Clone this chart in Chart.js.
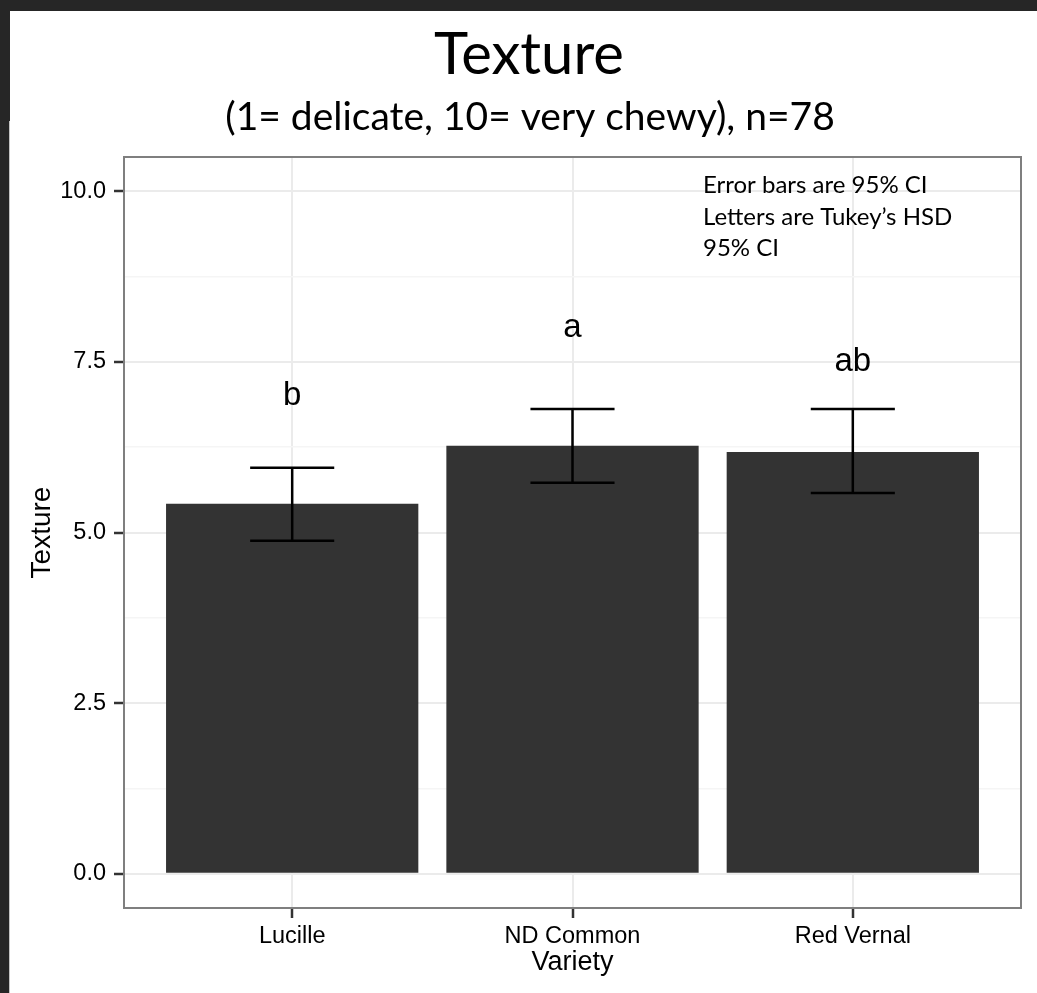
<!DOCTYPE html>
<html><head><meta charset="utf-8">
<script src="https://cdn.jsdelivr.net/npm/chart.js@4"></script>
<style>
html,body{margin:0;padding:0;background:#262626;overflow:hidden}
#wrap{position:absolute;left:0;top:0;width:1037px;height:993px}
</style></head>
<body><div id="wrap"><canvas id="c" width="1037" height="993"></canvas></div>
<script>
// ---- data ----
const categories = ['Lucille', 'ND Common', 'Red Vernal'];
const means      = [5.42, 6.27, 6.18];
const ciLow      = [4.88, 5.73, 5.58];
const ciHigh     = [5.95, 6.81, 6.81];
const letters    = ['b', 'a', 'ab'];
const letterY    = [7.0, 8.0, 7.5];
const yMajorTicks = [0, 2.5, 5, 7.5, 10];
const yMinorTicks = [1.25, 3.75, 6.25, 8.75];
const titleText = 'Texture';
const subtitleText = '(1= delicate, 10= very chewy), n=78';
const noteLines = ['Error bars are 95% CI', 'Letters are Tukey\u2019s HSD', '95% CI'];

// ---- styling constants ----
const ERR_CAP = 0.3;        // cap width in x units
const AX_FONT = 'Liberation Sans, Arial, sans-serif';
const TITLE_FONT = 'Lato, "Open Sans", sans-serif';

const yGrid = yMajorTicks.concat(yMinorTicks).sort((a,b)=>a-b);
const isMajor = v => yMajorTicks.some(m => Math.abs(m - v) < 1e-9);

const pageBg = {
  id: 'pageBg',
  beforeDraw(chart) {
    const {ctx} = chart;
    ctx.save();
    ctx.fillStyle = '#262626';
    ctx.fillRect(0, 0, chart.width, chart.height);
    ctx.fillStyle = '#ffffff';
    ctx.fillRect(10, 11, chart.width - 10, chart.height - 11);
    ctx.fillStyle = '#c4c4c4';
    ctx.fillRect(9, 121, 1, chart.height - 121);
    ctx.restore();
  }
};

const overlay = {
  id: 'overlay',
  afterDatasetsDraw(chart) {
    const {ctx, scales: {x, y}} = chart;
    ctx.save();
    ctx.strokeStyle = '#000';
    ctx.lineWidth = 2.5;
    categories.forEach((c, i) => {
      const xv = i + 1;
      const px = x.getPixelForValue(xv);
      const l = x.getPixelForValue(xv - ERR_CAP / 2);
      const r = x.getPixelForValue(xv + ERR_CAP / 2);
      const top = y.getPixelForValue(ciHigh[i]);
      const bot = y.getPixelForValue(ciLow[i]);
      ctx.beginPath();
      ctx.moveTo(px, top); ctx.lineTo(px, bot);
      ctx.moveTo(l, top); ctx.lineTo(r, top);
      ctx.moveTo(l, bot); ctx.lineTo(r, bot);
      ctx.stroke();
    });
    ctx.fillStyle = '#000';
    ctx.font = '33px ' + AX_FONT;
    ctx.textAlign = 'center';
    ctx.textBaseline = 'middle';
    categories.forEach((c, i) => {
      ctx.fillText(letters[i], x.getPixelForValue(i + 1), y.getPixelForValue(letterY[i]));
    });
    // panel border
    const a = chart.chartArea;
    ctx.strokeStyle = '#7f7f7f';
    ctx.lineWidth = 2;
    ctx.strokeRect(a.left, a.top, a.right - a.left, a.bottom - a.top);
    ctx.restore();
  },
  afterDraw(chart) {
    const {ctx} = chart;
    ctx.save();
    ctx.fillStyle = '#000';
    ctx.textAlign = 'center';
    ctx.textBaseline = 'alphabetic';
    ctx.font = '58px ' + TITLE_FONT;
    ctx.fillText(titleText, 529, 74);
    ctx.font = '39px ' + TITLE_FONT;
    ctx.fillText(subtitleText, 530, 130);
    ctx.textAlign = 'left';
    ctx.font = '24px ' + TITLE_FONT;
    noteLines.forEach((t, i) => ctx.fillText(t, 703, 193 + i * 31.5));
    ctx.restore();
  }
};

new Chart(document.getElementById('c'), {
  type: 'bar',
  data: {
    datasets: [{
      data: categories.map((c, i) => ({x: i + 1, y: means[i]})),
      backgroundColor: '#333333',
      borderWidth: 0,
      categoryPercentage: 1,
      barPercentage: 0.9
    }]
  },
  options: {
    responsive: false,
    animation: false,
    devicePixelRatio: 1,
    layout: {padding: {top: 157, left: 10, right: 16, bottom: 0}},
    plugins: {legend: {display: false}, tooltip: {enabled: false}, title: {display: false}},
    scales: {
      x: {
        type: 'linear', min: 0.4, max: 3.6, offset: false,
        afterBuildTicks(a) { a.ticks = categories.map((c, i) => ({value: i + 1})); },
        afterFit(a) { a.height = 85; },
        ticks: {
          callback: v => categories[Math.round(v) - 1],
          color: '#000', autoSkip: false, maxRotation: 0, padding: 4,
          font: {family: AX_FONT, size: 23.5, lineHeight: 1.2}
        },
        grid: {offset: false, color: '#ebebeb', lineWidth: 2, tickLength: 10, tickColor: '#333', tickWidth: 2.5},
        border: {display: false},
        title: {display: true, text: 'Variety', color: '#000',
          font: {family: AX_FONT, size: 27, lineHeight: 1}, padding: {top: 0, bottom: 17}}
      },
      y: {
        type: 'linear', min: -0.5, max: 10.5,
        afterBuildTicks(a) { a.ticks = yGrid.map(v => ({value: v})); },
        afterFit(a) { a.width = 114; },
        ticks: {
          callback: v => isMajor(v) ? v.toFixed(1) : '',
          color: '#000', autoSkip: false, padding: 8,
          font: {family: AX_FONT, size: 23.5, lineHeight: 1.2}
        },
        grid: {
          color: c => isMajor(c.tick.value) ? '#ebebeb' : '#f5f5f5',
          lineWidth: c => isMajor(c.tick.value) ? 2 : 1.5,
          tickColor: c => isMajor(c.tick.value) ? '#333' : 'rgba(0,0,0,0)',
          tickLength: 10, tickWidth: 2.5
        },
        border: {display: false},
        title: {display: true, text: 'Texture', color: '#000',
          font: {family: AX_FONT, size: 28, lineHeight: 1}, padding: {top: 18, bottom: 0}}
      }
    }
  },
  plugins: [pageBg, overlay]
});
</script>
</body></html>
